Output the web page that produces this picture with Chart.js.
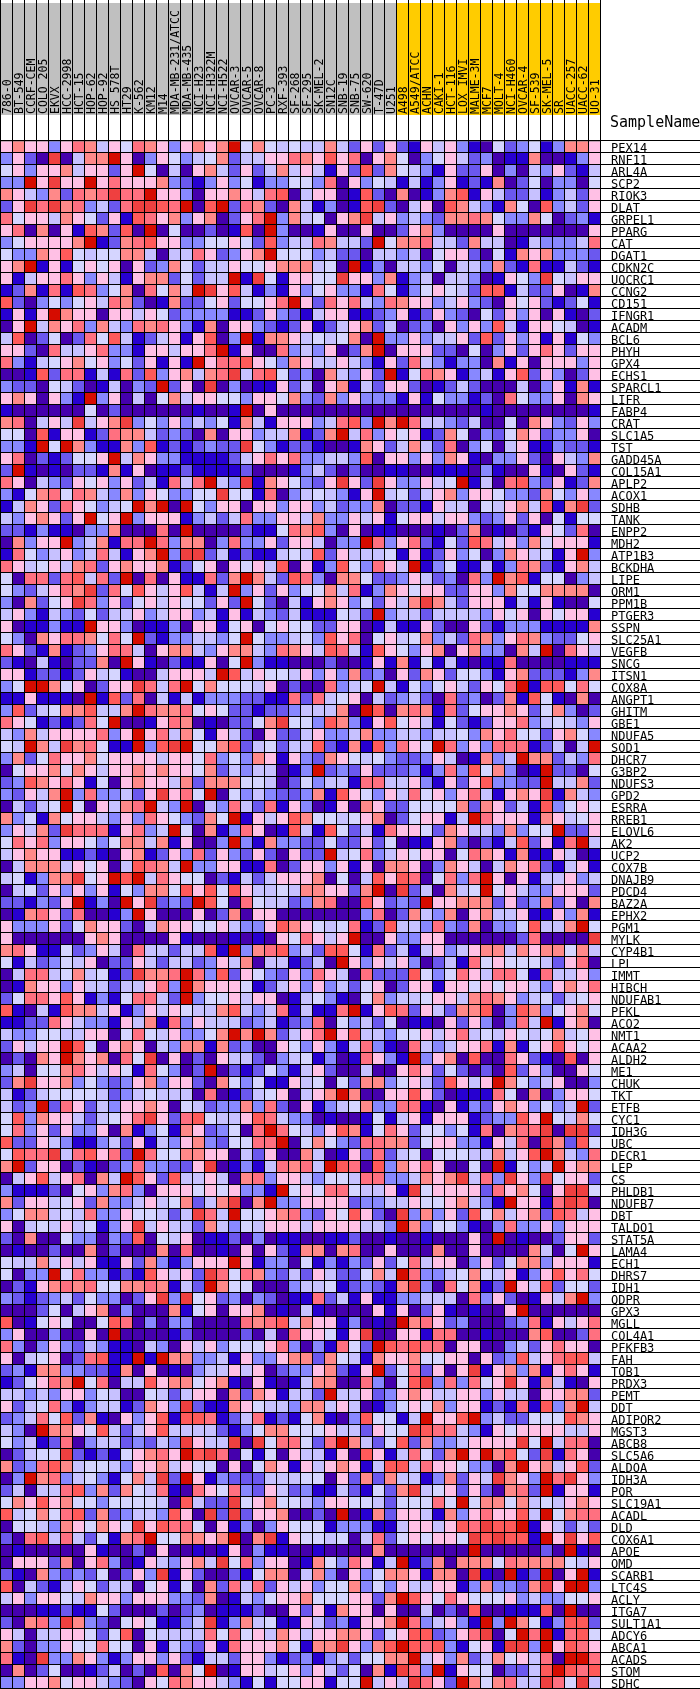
<!DOCTYPE html>
<html>
<head>
<meta charset="utf-8">
<title>Heat map</title>
<script src="https://cdn.jsdelivr.net/npm/chart.js"></script>
<style>
    html, body { margin: 0; padding: 0; background: #fff; overflow: hidden; }
    canvas { display: block; }
</style>
</head>
<body>
<canvas id="heatmap" width="700" height="1689"></canvas>
<script>
// Column names, split by the two classes in the header band
const classASamples = ["786-0", "BT-549", "CCRF-CEM", "COLO 205", "EKVX", "HCC-2998", "HCT-15", "HOP-62", "HOP-92", "HS 578T", "HT29", "K-562", "KM12", "M14", "MDA-MB-231/ATCC", "MDA-MB-435", "NCI-H23", "NCI-H322M", "NCI-H522", "OVCAR-3", "OVCAR-5", "OVCAR-8", "PC-3", "RXF-393", "SF-268", "SF-295", "SK-MEL-2", "SN12C", "SNB-19", "SNB-75", "SW-620", "T-47D", "U251"];
const classBSamples = ["A498", "A549/ATCC", "ACHN", "CAKI-1", "HCT-116", "LOX IMVI", "MALME-3M", "MCF7", "MOLT-4", "NCI-H460", "OVCAR-4", "SF-539", "SK-MEL-5", "SR", "UACC-257", "UACC-62", "UO-31"];

const genes = ["PEX14", "RNF11", "ARL4A", "SCP2", "RIOK3", "DLAT", "GRPEL1", "PPARG", "CAT", "DGAT1", "CDKN2C", "UQCRC1", "CCNG2", "CD151", "IFNGR1", "ACADM", "BCL6", "PHYH", "GPX4", "ECHS1", "SPARCL1", "LIFR", "FABP4", "CRAT", "SLC1A5", "TST", "GADD45A", "COL15A1", "APLP2", "ACOX1", "SDHB", "TANK", "ENPP2", "MDH2", "ATP1B3", "BCKDHA", "LIPE", "ORM1", "PPM1B", "PTGER3", "SSPN", "SLC25A1", "VEGFB", "SNCG", "ITSN1", "COX8A", "ANGPT1", "GHITM", "GBE1", "NDUFA5", "SOD1", "DHCR7", "G3BP2", "NDUFS3", "GPD2", "ESRRA", "RREB1", "ELOVL6", "AK2", "UCP2", "COX7B", "DNAJB9", "PDCD4", "BAZ2A", "EPHX2", "PGM1", "MYLK", "CYP4B1", "LPL", "IMMT", "HIBCH", "NDUFAB1", "PFKL", "ACO2", "NMT1", "ACAA2", "ALDH2", "ME1", "CHUK", "TKT", "ETFB", "CYC1", "IDH3G", "UBC", "DECR1", "LEP", "CS", "PHLDB1", "NDUFB7", "DBT", "TALDO1", "STAT5A", "LAMA4", "ECH1", "DHRS7", "IDH1", "QDPR", "GPX3", "MGLL", "COL4A1", "PFKFB3", "FAH", "TOB1", "PRDX3", "PEMT", "DDT", "ADIPOR2", "MGST3", "ABCB8", "SLC5A6", "ALDOA", "IDH3A", "POR", "SLC19A1", "ACADL", "DLD", "COX6A1", "APOE", "OMD", "SCARB1", "LTC4S", "ACLY", "ITGA7", "SULT1A1", "ADCY6", "ABCA1", "ACADS", "STOM", "SDHC"];

// Colour level of every cell, one string per gene, one hex digit per sample (0 = lowest, b = highest)
const cellLevels = [
"6766368746 587636767b 5754544742 6262164631 0523513776",
"3620a0477b 6036534572 4466876968 0675035642 3011700136",
"5636674662 6b50406742 6247464162 9275431622 6030436214",
"33b6a66b68 6667321363 5133553806 3541413612 1702503305",
"764372878a 88b6630667 6489046601 9207013791 6422413426",
"26a8a78342 8aa98b09b2 8720741301 9a20460974 3175093426",
"8566476526 1986736702 68b3745067 a463432778 7533750231",
"6807061972 90b0500201 90b3001600 6002673000 0600000006",
"3566667b12 7896633556 5293448744 2b57784427 4401433348",
"5337695455 7740448623 67b5553422 0443405662 0517673332",
"67b1615656 0623752446 556777450b 1304435044 3721811421",
"6146686364 167725244b 1a516655a6 6371340443 01653a5466",
"1271819835 708574ba69 4131635633 1851356542 9914226017",
"9203535648 7201722562 5568b62868 4387663463 2065621251",
"1616b76606 6465233331 1263214661 1236126320 5263606102",
"06b4768374 3878631706 6321261246 7240230636 3941665401",
"4902502859 4124616903 b177645457 0b33634462 9263616153",
"6620844683 31664668b1 6008343602 7b06662205 0362686266",
"8314567563 526161b688 9653764464 3162843133 0716066636",
"0019288141 829367478a 4895230743 62b1587613 4169263026",
"3220542014 032b260a03 0116240671 4266201242 0004036171",
"6760631b36 0405746655 3665732736 3331615331 2085336076",
"1000000502 0000001001 b060000000 0000000000 1000000001",
"780464a467 a353634351 7416663489 3b7b844324 0050763263",
"5509166128 7742320706 63447127b4 8365612750 3257623360",
"331b5b7311 7391212322 a531221001 7624742803 5046113221",
"680212556b 4763311112 4686833443 9066363761 0336206437",
"2b10102217 1601121111 2000134202 0011001110 3100610621",
"8604326563 6241848b43 a1765326a6 2a633645b1 4089326127",
"3157858743 73653355a5 5180345431 6b45246736 6533275363",
"1476286534 5b7b0b5366 0663663423 3702216440 54674917a2",
"4367626b56 b366613424 8336647336 4615664663 2362605155",
"2213110337 00080b0000 2115879306 0110001027 0102165280",
"07366b3471 88b8377038 3362664033 b836821529 8463756661",
"1853463484 167b3aa241 2114549264 4451612635 03764516b3",
"8645647826 7667125606 5649061395 3864b13511 4138721674",
"5088289482 b080611827 b742983077 5223642308 3b79155034",
"5324687a28 596469414b 3626355748 1376566226 6375577770",
"307256a836 2564655262 b520416763 52647a7426 6614161005",
"4631432524 4634663416 1432411154 2b34424444 3656065661",
"6011311b66 3011306615 6056552266 0141162006 2133311117",
"5307688758 5b21334435 b533453968 0564573428 7368732256",
"8621712368 8406774367 7438764984 1965367067 33074b0864",
"2104102270 b610211605 b311000200 1617151410 1180000111",
"6612212645 10046664b9 4655463637 2306276255 3167222137",
"35bb756026 6a848b5755 5460200834 5b41535642 658b199585",
"1161110b19 2804141333 2211828456 0423420823 0271951070",
"3924577944 7b87785652 2122344470 b907871825 6676257302",
"865121285b 0016870102 257a553973 1695641521 2668345436",
"4374666683 6b68475164 2062246334 7334434453 7685526753",
"54b74a7851 1b39ab5579 2452449217 193865b836 388812404b",
"3725866756 6664665835 3761632765 4532236401 734b772438",
"0566757646 6767665724 344013b232 6222313839 57301b2205",
"2397686150 6766472777 5540253441 8844631626 93322b4472",
"32647b3833 426a685b05 3432237196 5364856368 41676a1743",
"04245b5064 78b43b0438 4281630160 7622555572 7624193565",
"7351756643 638653275b 1646975545 670256614b 8666176456",
"36472a8881 6834b50713 8601941952 4186652764 437355b226",
"5868366535 774716003b 3173322522 6250116720 21492618b4",
"4676611210 6712638263 2620622b45 8346566058 7617116401",
"0477746560 49874b3366 1180266361 6077603764 0476821461",
"451377a56b 9b48655021 4246667050 4969805838 b606144634",
"0452636361 5377596959 6445477662 7b0a240745 b564336662",
"221326b130 b6a232b950 8544237800 96232b6677 7262372607",
"0178628001 3b60006027 0660000000 3802743706 7446116371",
"6333625766 2047665564 3369765458 1294438327 03359447b5",
"6000000676 0000610001 010658646b 0063366000 000280000a",
"7861152364 084424491b 3789342995 1824146346 7747677574",
"5142354602 2642442364 70441240b6 3646302418 5655542680",
"0488457451 2a778b8392 6532638640 8222953586 4885184463",
"0176636442 44683b7666 5124636342 5602661665 6566436768",
"2588696131 58842b3556 4660145310 5734456647 8763452456",
"9104197746 1364654479 434814118b 1698264277 9039735675",
"1122864331 6471836444 2341238053 4250110626 30384b1670",
"4335544660 585463357b 7b72468b69 4435564684 5465457456",
"26466b9506 7604377172 3006536314 8310843466 8171569656",
"02076b7670 85a0602064 4203451301 8631b36709 0086210906",
"3405578646 5185302b02 1253146200 4006862520 2092630065",
"27a6673532 3673662075 3511645052 7735642964 6b75346003",
"4124555542 3454440801 24560467b7 0066962011 1850703665",
"423b286243 6676054233 7382061345 7338810613 26763534b2",
"5937664245 68a6289544 6984330100 1514616661 23396b5475",
"5836263360 7135176235 08b8543697 1586255351 80788a0aa2",
"9226431134 2614367325 588b057532 8877256633 16480a7295",
"5988a48968 2b85577660 4260074016 2824505554 47469b7438",
"7b26602102 3833226a01 3148784b98 0937686005 0b1534b677",
"0469468074 b962944640 7836643554 88334767a4 83a63a5662",
"3111205637 8306665656 331b565885 4461a56666 2867506aa5",
"7266456273 346457247a 07b3366662 3344655674 31b6618a90",
"3577454833 655424a84b 5567832659 620a373629 5746729846",
"6045464513 6a46442743 5466646666 443b735531 0383363666",
"2070053303 2905460112 0301100112 0010010006 0b01002662",
"0100200702 0007080010 6062177078 0060007006 00007405b6",
"5447464611 627313666b 6133051313 2625846603 6257736661",
"5033b58331 2196462a85 8732426422 574b833457 5461369685",
"0216787855 7787142b75 5000344512 3217a30857 12b6492552",
"3212342533 026a3a5623 0320118241 6113344408 36201647b3",
"0002504670 3000715606 6701041000 0616026101 006b000000",
"9015650059 8030330000 8789476613 010b786230 0023816468",
"360030060b 0000120000 2040866516 a006618800 1000790028",
"8303632431 1043064635 5568303185 2b98988066 0034268660",
"6045602891 1b1b773341 6336772754 1766755660 6239468994",
"2317733221 7060103446 4602336721 6b2582606a 1673716861",
"125687b580 4496775671 0610147700 83059a3838 56a6174106",
"4434366354 0054246607 2761442b44 6236764466 3644066772",
"6245831344 12763a2117 6544377464 0135657366 12181937b4",
"2348592710 6369199812 4812157103 95514b669b 3422555976",
"430b776594 2469444421 3577555644 2655a98843 1656666446",
"5341280344 23243a644a 0a588528b7 4259273346 666a5b4880",
"02455a2121 56786b9a80 5150644160 96148527b6 b7952a1860",
"7238974554 3667465506 0576164676 1499486653 307b674692",
"03b7834531 574a2b6132 2244455062 7274413726 4a763b8a63",
"2404489372 7548108658 3264231142 1527a45626 20782b1661",
"5769675535 555409422a 5675543665 54255585b5 7757454676",
"9457589272 3443960a2a 26670020b0 1726641736 86694b5788",
"0554376576 5a69885061 3036555133 3114664698 a99b164242",
"2089484251 78b557767b 07a1655450 482565665a 9a991b6a69",
"0100000610 0206001016 0311001000 070000000b 0000020b10",
"0666270683 01643674a5 8366017538 614b127077 7587777546",
"2107323250 263a162002 1577047306 357761770a 10b12b06b1",
"9042146524 4056150728 4826463557 3536446613 73327a6bb3",
"4636654766 3666332701 4356675556 627b965865 5563433556",
"0001121152 0002023011 1200626176 6060040209 0011190b00",
"20783a7320 5651134a13 7451164231 667b834631 b3b7513992",
"6404466525 9054444858 5647646677 6256992368 a05b8b1895",
"7203365585 5061432618 66675177a6 379b989315 61aa3b6986",
"810a337631 3663621442 6631231342 5577b46372 4756480bb8",
"0702500124 0209075b01 6645636425 071a83b165 502249b989",
"3366756643 2065876643 1515566155 b464a862b7 57844a85a4"
];

const levelColors = ["#4500AD", "#2700D1", "#6B58EF", "#8888FF", "#C7C1FF", "#D5D5FF", "#FFC0E5", "#FF8989", "#FF7080", "#FF5A5A", "#EF4040", "#D60C00"];
const classColors = ["#C0C0C0", "#FFCC00"];

const samples = classASamples.concat(classBSamples);
const monoFont = "'DejaVu Sans Mono', monospace";

// One stacked dataset per gene, each cell is one unit tall
const datasets = genes.map((gene, row) => {
    const levels = cellLevels[row].replace(/ /g, "").split("").map(ch => parseInt(ch, 16));
    return {
        label: gene,
        data: levels.map(() => 1),
        backgroundColor: levels.map(level => levelColors[level]),
        borderColor: "#000",
        borderWidth: { top: 1, left: 1, right: 0, bottom: 0 },
        borderSkipped: false,
        inflateAmount: 0,
        barPercentage: 1,
        categoryPercentage: 1
    };
});

// Grey and gold band behind the sample names, plus the corner title
const headerPlugin = {
    id: "header",
    beforeDraw(chart) {
        const ctx = chart.ctx;
        const x = chart.scales.x;
        ctx.save();
        samples.forEach((name, i) => {
            const colour = i < classASamples.length ? classColors[0] : classColors[1];
            ctx.fillStyle = colour;
            ctx.fillRect(x.getPixelForValue(i) - 6, 3, 12, 112);
        });
        ctx.restore();
    },
    afterDraw(chart) {
        const ctx = chart.ctx;
        ctx.save();
        ctx.fillStyle = "#000";
        ctx.font = "15px " + monoFont;
        ctx.textBaseline = "alphabetic";
        ctx.fillText("SampleName", 610, 127);
        ctx.restore();
    }
};

new Chart(document.getElementById("heatmap").getContext("2d"), {
    type: "bar",
    data: { labels: samples, datasets: datasets },
    plugins: [headerPlugin],
    options: {
        responsive: false,
        animation: false,
        events: [],
        layout: { padding: { top: 0, left: 0, right: 0, bottom: 1 } },
        plugins: { legend: { display: false }, tooltip: { enabled: false }, title: { display: false } },
        scales: {
            x: {
                position: "top",
                stacked: true,
                afterFit(scale) { scale.height = 140; },
                border: { color: "#000" },
                grid: { color: "#000", lineWidth: 1, tickLength: 140, tickColor: "#000" },
                ticks: {
                    autoSkip: false,
                    minRotation: 90,
                    maxRotation: 90,
                    mirror: true,
                    padding: -26,
                    labelOffset: 2.5,
                    color: "#000",
                    font: { family: monoFont, size: 11.5 }
                }
            },
            y: {
                position: "right",
                stacked: true,
                reverse: true,
                min: 0,
                max: genes.length,
                afterFit(scale) { scale.width = 100; },
                border: { color: "#000" },
                grid: { color: "#000", lineWidth: 1, tickLength: 100, tickColor: "#000" },
                ticks: {
                    stepSize: 1,
                    autoSkip: false,
                    padding: -89,
                    labelOffset: 9,
                    color: "#000",
                    font: { family: monoFont, size: 12 },
                    callback: value => genes[value] || ""
                }
            }
        }
    }
});
</script>
</body>
</html>
